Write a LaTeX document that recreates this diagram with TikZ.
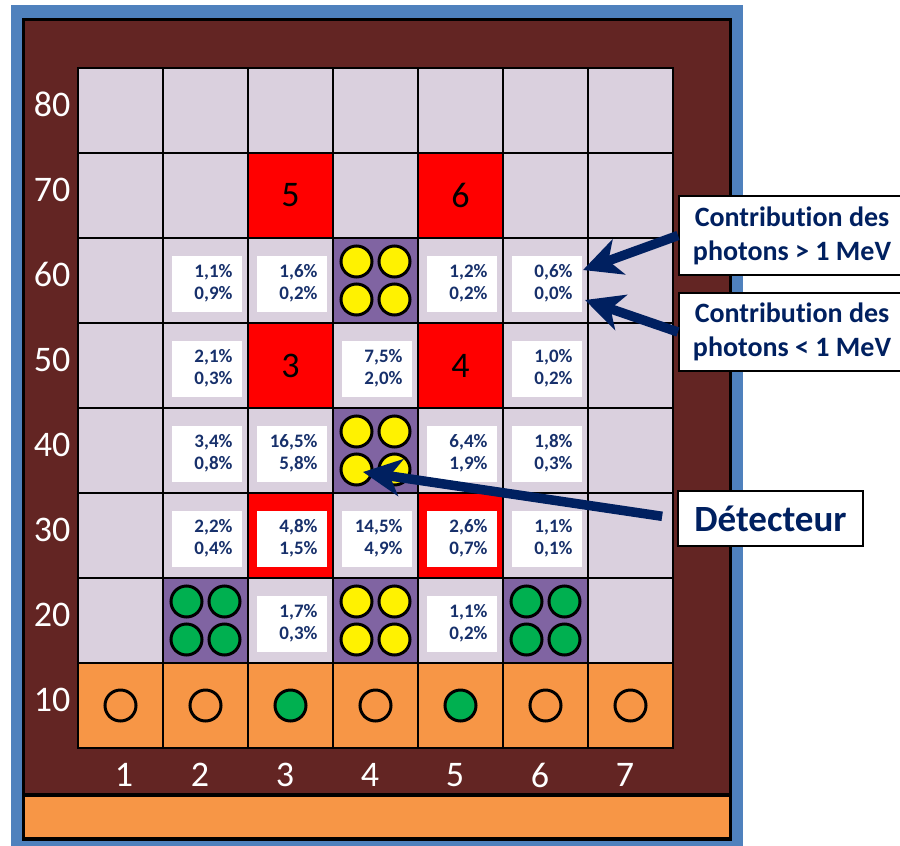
\documentclass[tikz,border=0pt]{standalone}
\usepackage{fontspec}
\setmainfont{Carlito}[Ligatures=NoCommon]
\usetikzlibrary{arrows.meta}
\definecolor{bluef}{HTML}{4F81BD}
\definecolor{brownf}{HTML}{632523}
\definecolor{lav}{RGB}{218,208,222}
\definecolor{purp}{HTML}{8064A2}
\definecolor{orng}{HTML}{F79646}
\definecolor{grn}{HTML}{00B050}
\definecolor{navy}{HTML}{002060}
\definecolor{pcttxt}{HTML}{17306B}
\tikzset{
  cell/.style={rectangle,draw=black,line width=2.5pt,minimum size=85pt,inner sep=0pt},
  pbox/.style={rectangle,fill=white,minimum width=70pt,minimum height=56pt,inner sep=0pt,
    text width=52pt,align=right,text=pcttxt,font=\fontsize{19}{22}\selectfont\bfseries},
  dot/.style={circle,draw=black,line width=3pt,minimum size=31pt,inner sep=0pt},
  axlab/.style={text=white,font=\fontsize{36}{40}\selectfont,inner sep=0pt},
  bignum/.style={text=black,font=\fontsize{36}{40}\selectfont,inner sep=0pt},
  lbox/.style={rectangle,draw=black,line width=2pt,fill=white,align=center,text=navy,inner sep=0pt,
    font=\fontsize{28}{34}\selectfont\bfseries},
  arr/.style={draw=navy,line width=9.5pt,-{Stealth[length=38pt,width=37pt,inset=11pt]}}
}
\begin{document}
\begin{tikzpicture}[x=1pt,y=-1pt]
\useasboundingbox (0,0) rectangle (900,846);
\clip (0,0) rectangle (900,846);
% frame
\fill[bluef] (11,5) rectangle (743,850);
\fill[brownf] (23.5,19.5) rectangle (730.5,839);
\fill[orng] (23.5,795) rectangle (730.5,839);
\draw[line width=3.5pt] (23.5,19.5) rectangle (730.5,839);
\draw[line width=3.5pt] (23.5,795) -- (730.5,795);
% base cells
\foreach \c in {1,...,7} {
  \foreach \r in {2,...,8} {
    \node[cell,fill=lav] (cell-\c-\r) at ({120.5+85*(\c-1)},{110.5+85*(8-\r)}) {};
  }
  \node[cell,fill=orng] (cell-\c-1) at ({120.5+85*(\c-1)},{110.5+85*7}) {};
}
% red cells
\foreach \c/\r in {3/7,5/7,3/5,5/5,3/3,5/3}
  \node[cell,fill=red] (red-\c-\r) at (cell-\c-\r) {};
% purple cells
\foreach \c/\r in {4/6,4/4,2/2,4/2,6/2}
  \node[cell,fill=purp] (pur-\c-\r) at (cell-\c-\r) {};
% dots in purple cells
\foreach \c/\r/\col in {4/6/yellow,4/4/yellow,4/2/yellow,2/2/grn,6/2/grn}
  \foreach \dx/\dy/\k in {-19/-19/a,19/-19/b,-19/19/c,19/19/d}
    \node[dot,fill=\col] (dot-\c-\r-\k) at ([shift={(\dx,\dy)}]cell-\c-\r.center) {};
% row 10 circles
\foreach \c/\col in {1/orng,2/orng,3/grn,4/orng,5/grn,6/orng,7/orng}
  \node[dot,fill=\col] (ring-\c) at (cell-\c-1) {};
% red numbers
\node[bignum] (n5) at (cell-3-7) {5};
\node[bignum] (n6) at (cell-5-7) {6};
\node[bignum] (n3) at (cell-3-5) {3};
\node[bignum] (n4) at (cell-5-5) {4};
% percentage boxes
\foreach \c/\r/\a/\b in {2/6/{1,1}/{0,9},3/6/{1,6}/{0,2},5/6/{1,2}/{0,2},6/6/{0,6}/{0,0},
  2/5/{2,1}/{0,3},4/5/{7,5}/{2,0},6/5/{1,0}/{0,2},
  2/4/{3,4}/{0,8},3/4/{16,5}/{5,8},5/4/{6,4}/{1,9},6/4/{1,8}/{0,3},
  2/3/{2,2}/{0,4},3/3/{4,8}/{1,5},4/3/{14,5}/{4,9},5/3/{2,6}/{0,7},6/3/{1,1}/{0,1},
  3/2/{1,7}/{0,3},5/2/{1,1}/{0,2}}
  \node[pbox] (p-\c-\r) at ([shift={(1,3)}]cell-\c-\r.center) {\a\%\\\b\%};
% axis labels
\foreach \r in {1,...,8}
  \node[axlab] (rl\r) at (52,{104.5+85*(8-\r)}) {\r0};
\node[axlab] (cl1) at (124,775) {1};
\foreach \c in {2,...,7}
  \node[axlab] (cl\c) at ({115+85*(\c-1)},775) {\c};
% legend boxes
\node[lbox,minimum width=226pt,minimum height=79pt] (lb1) at (792,235.5) {Contribution des\\photons > 1 MeV};
\node[lbox,minimum width=226pt,minimum height=78pt] (lb2) at (792,332) {Contribution des\\photons < 1 MeV};
\node[lbox,minimum width=185pt,minimum height=55pt,font=\fontsize{37}{40}\selectfont\bfseries] (det) at (770.5,518.5) {Détecteur};
% arrows
\coordinate (t1) at (583,270);
\coordinate (t2) at (585,300);
\coordinate (t3) at (363,472);
\draw[arr] (lb1.west) -- (t1);
\draw[arr] (lb2.west) -- (t2);
\draw[arr,shorten <=15pt] (det.west) -- (t3);
\end{tikzpicture}
\end{document}
